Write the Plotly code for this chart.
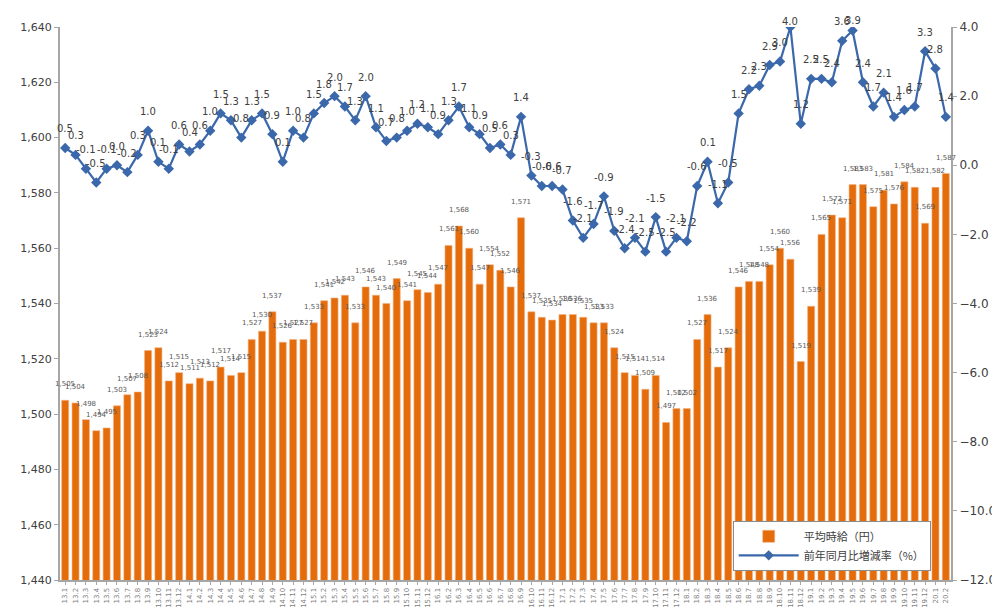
import plotly.graph_objects as go

months = [f"{y}.{m}" for y in range(13, 20) for m in range(1, 13)] + ["20.1", "20.2"]

wage = [1505, 1504, 1498, 1494, 1495, 1503, 1507, 1508, 1523, 1524, 1512, 1515,
        1511, 1513, 1512, 1517, 1514, 1515, 1527, 1530, 1537, 1526, 1527, 1527,
        1533, 1541, 1542, 1543, 1533, 1546, 1543, 1540, 1549, 1541, 1545, 1544,
        1547, 1561, 1568, 1560, 1547, 1554, 1552, 1546, 1571, 1537, 1535, 1534,
        1536, 1536, 1535, 1533, 1533, 1524, 1515, 1514, 1509, 1514, 1497, 1502,
        1502, 1527, 1536, 1517, 1524, 1546, 1548, 1548, 1554, 1560, 1556, 1519,
        1539, 1565, 1572, 1571, 1583, 1583, 1575, 1581, 1576, 1584, 1582, 1569,
        1582, 1587]

yoy = [0.5, 0.3, -0.1, -0.5, -0.1, 0.0, -0.2, 0.3, 1.0, 0.1, -0.1, 0.6,
       0.4, 0.6, 1.0, 1.5, 1.3, 0.8, 1.3, 1.5, 0.9, 0.1, 1.0, 0.8,
       1.5, 1.8, 2.0, 1.7, 1.3, 2.0, 1.1, 0.7, 0.8, 1.0, 1.2, 1.1,
       0.9, 1.3, 1.7, 1.1, 0.9, 0.5, 0.6, 0.3, 1.4, -0.3, -0.6, -0.6,
       -0.7, -1.6, -2.1, -1.7, -0.9, -1.9, -2.4, -2.1, -2.5, -1.5, -2.5, -2.1,
       -2.2, -0.6, 0.1, -1.1, -0.5, 1.5, 2.2, 2.3, 2.9, 3.0, 4.0, 1.2,
       2.5, 2.5, 2.4, 3.6, 3.9, 2.4, 1.7, 2.1, 1.4, 1.6, 1.7, 3.3,
       2.8, 1.4]

bar_name = "平均時給（円）"
line_name = "前年同月比増減率（%）"

BAR = "#E46C0A"
LINE = "#3A68AA"
FONT = "DejaVu Sans, Verdana, Noto Sans CJK JP, sans-serif"

Y2_MIN, Y2_MAX = -12, 4
TOP, BOTTOM, H = 18, 35, 612
plot_h = H - TOP - BOTTOM

idx = list(range(len(months)))

fig = go.Figure()
fig.add_trace(go.Bar(
    x=idx, y=wage, name=bar_name, marker=dict(color=BAR, line=dict(color="#F4B183", width=0.6)),
    yaxis="y", customdata=months, hovertemplate="%{customdata}: %{y:,}<extra></extra>",
))
fig.add_trace(go.Scatter(
    x=idx, y=yoy, name=line_name, mode="lines+markers", yaxis="y2",
    line=dict(color=LINE, width=2.2),
    marker=dict(symbol="diamond", size=8, color=LINE),
    customdata=months, hovertemplate="%{customdata}: %{y:.1f}<extra></extra>",
))

annotations = []
for i, w in zip(idx, wage):
    annotations.append(dict(x=i, y=w, xref="x", yref="y", text=f"{w:,}", showarrow=False,
                            yshift=16, font=dict(size=7, color="#595959", family=FONT)))
for i, v in zip(idx, yoy):
    # keep labels near the top edge inside the page (as the original does)
    py = TOP + (Y2_MAX - v) / (Y2_MAX - Y2_MIN) * plot_h
    shift = min(19, py - 12)
    annotations.append(dict(x=i, y=v, xref="x", yref="y2", text=f"{v:.1f}", showarrow=False,
                            yshift=shift, font=dict(size=10, color="#404040", family=FONT)))

fig.update_layout(
    width=1000, height=H,
    margin=dict(l=49, r=47, t=TOP, b=BOTTOM),
    paper_bgcolor="white", plot_bgcolor="white",
    font=dict(family=FONT, color="#404040"),
    bargap=0.32,
    showlegend=True,
    legend=dict(x=0.755, y=0.107, xanchor="left", yanchor="top",
                bgcolor="white", bordercolor="#8c8c8c", borderwidth=1,
                font=dict(size=11, color="#404040", family="Noto Sans CJK JP, sans-serif"),
                itemwidth=60, tracegroupgap=0),
    xaxis=dict(range=[-0.5, len(months) - 0.5], tickmode="array", tickvals=idx, ticktext=months,
               tickangle=-90, tickfont=dict(size=7, color="#7f7f7f"),
               showline=True, linecolor="#a6a6a6", linewidth=2, ticks="outside",
               ticklen=3, tickcolor="#a6a6a6", showgrid=False, zeroline=False),
    yaxis=dict(range=[1440, 1640], dtick=20, tickformat=",", showgrid=False,
               showline=True, linecolor="#a6a6a6", linewidth=2, ticks="outside",
               ticklen=4, tickcolor="#a6a6a6", tickfont=dict(size=11, color="#404040"),
               zeroline=False),
    yaxis2=dict(range=[Y2_MIN, Y2_MAX], dtick=2, tickformat=".1f", overlaying="y", side="right",
                showgrid=False, showline=True, linecolor="#a6a6a6", linewidth=2,
                ticks="outside", ticklen=4, tickcolor="#a6a6a6",
                tickfont=dict(size=12, color="#404040"), zeroline=False),
    annotations=annotations,
)

fig.write_html("out.html")
